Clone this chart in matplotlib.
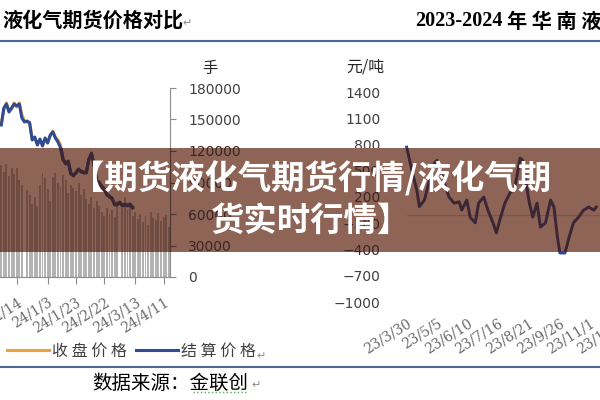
import numpy as np
import matplotlib
matplotlib.use('Agg')
import matplotlib.pyplot as plt
from matplotlib.patches import Rectangle
from matplotlib.transforms import Bbox, TransformedBbox

plt.rcParams['font.family'] = ['Noto Sans CJK SC', 'DejaVu Sans']
plt.rcParams['axes.unicode_minus'] = True

# ---- left chart: 成交量 (手) and 收盘/结算价格
volume = [107000, 100000, 108000, 96000, 104000, 98000, 104000, 92000, 88000, 0,
          83000, 78000, 70000, 76000, 68000, 88000, 99000, 94000, 84000, 72000,
          95000, 99000, 90000, 86000, 97000, 92000, 80000, 88000, 85000, 82000,
          90000, 78000, 84000, 74000, 70000, 76000, 66000, 72000, 68000, 62000,
          58000, 66000, 60000, 64000, 57000, 72000, 0, 66000, 76000, 64000,
          70000, 58000, 62000, 55000, 60000, 52000, 58000, 50000, 62000, 56000,
          54000, 61000, 53000, 57000, 59000, 48000]
settle = [4875, 4960, 4980, 4940, 4960, 4980, 4970, 4980, 4910, 4890,
          4895, 4885, 4800, 4815, 4775, 4805, 4770, 4810, 4785, 4825,
          4840, 4810, 4790, 4760, 4700, 4685, 4690, 4635, 4620, 4640,
          4650, 4645, 4635, 4640, 4700, 4735, 4675, 4600, 4585, 4570,
          4550, 4530, 4515, 4510, 4475, 4480, 4485, 4475, 4475, 4475,
          4475, 4465]
close = [4880, 4955, 4985, 4945, 4955, 4985, 4965, 4985, 4925, 4895,
         4890, 4890, 4805, 4810, 4780, 4800, 4775, 4805, 4790, 4820,
         4845, 4815, 4800, 4775, 4705, 4680, 4695, 4630, 4625, 4635,
         4655, 4640, 4640, 4635, 4705, 4730, 4680, 4595, 4590, 4565,
         4555, 4525, 4520, 4505, 4480, 4475, 4490, 4470, 4480, 4470,
         4480, 4460]
vol_ticks = [0, 30000, 60000, 90000, 120000, 150000, 180000]
left_tick_idx = [6, 18, 29, 40, 52, 63]
left_tick_labels = ['23/12/14', '24/1/3', '24/1/23', '24/2/22', '24/3/13', '24/4/11']

# ---- right chart: 2023-2024 华南液化气 价差 (元/吨)
spread_days = [0, 6, 12, 15, 21, 27, 33, 36, 41, 46,
               50, 56, 62, 65, 71, 75, 81, 85, 91, 96,
               102, 106, 110, 116, 122, 128, 134, 137, 141, 145,
               149, 154, 158, 164, 170, 174, 178, 181, 187, 192,
               197, 203, 209, 215, 221, 224]
spread = [770, 510, 280, 90, 165, 395, 590, 620, 475, 315,
          200, 130, 145, 50, 165, -30, -95, 130, 200, 50,
          -95, -210, -65, 130, 245, 315, 645, 620, 360, 130,
          -30, 130, -145, -95, 165, 85, -255, -440, -440, -255,
          -95, -30, 50, 85, 50, 85]
spread_ticks = [-1000, -700, -400, -100, 200, 500, 800, 1100, 1400]
right_tick_days = [0, 36, 72, 108, 144, 180, 216, 252]
right_tick_labels = ['23/3/30', '23/5/5', '23/6/10', '23/7/16', '23/8/21',
                     '23/9/26', '23/11/1', '23/12/7']

W, H = 600, 400
ORANGE = '#E9A43C'
BLUE = '#2F4B93'
BANNER = '#8E6456'
XLAB = dict(rotation=32, ha='right', va='top', rotation_mode='anchor',
            family='DejaVu Serif', fontsize=10, color='#6A6A6A')


def px_rect(x0, y0, x1, y1):
    return [x0 / W, 1 - y1 / H, (x1 - x0) / W, (y1 - y0) / H]


fig = plt.figure(figsize=(6, 4), dpi=100)
fig.patch.set_facecolor('white')
banner_box = TransformedBbox(Bbox.from_extents(0, 1 - 252 / H, 1, 1 - 148 / H),
                             fig.transFigure)


def in_banner(ax, v):
    y = ax.transData.transform((0, v))[1]
    return banner_box.y0 <= y <= banner_box.y1


def clip_to_banner(arts):
    for a in arts:
        a.set_clip_on(True)
        a.set_clip_box(banner_box)


def draw_left(z, bar_c, close_c, settle_c, axis_c, lab_c, shadow):
    rect = px_rect(0, 88, 170, 277)
    ax_v = fig.add_axes(rect, zorder=z)
    ax_p = fig.add_axes(rect, zorder=z + 0.1, sharex=ax_v)
    ax_v.patch.set_visible(False)
    x = np.arange(len(volume))
    ax_v.bar(x, volume, width=0.75, color=bar_c, linewidth=0)
    ax_v.set_xlim(-0.5, len(volume) - 0.5)
    ax_v.set_ylim(0, 180000)
    ax_v.yaxis.tick_right()
    ax_v.set_yticks(vol_ticks)
    ax_v.set_yticklabels([str(v) if in_banner(ax_v, v) == shadow else '' for v in vol_ticks],
                         family='DejaVu Sans', fontsize=10, color=lab_c)
    ax_v.set_xticks(left_tick_idx)
    ax_v.set_xticklabels(['' if shadow else s for s in left_tick_labels], **XLAB)
    ax_v.tick_params(axis='y', right=True, left=False, direction='out',
                     length=4, pad=9, color=axis_c)
    ax_v.tick_params(axis='x', direction='out', length=5, pad=8, color=axis_c)
    for side in ['left', 'top']:
        ax_v.spines[side].set_visible(False)
    for side in ['right', 'bottom']:
        ax_v.spines[side].set_color(axis_c)

    ax_p.plot(np.arange(len(close)), close, color=close_c, lw=2.2)
    ax_p.plot(np.arange(len(settle)), settle, color=settle_c, lw=2.2)
    ax_p.set_ylim(4115, 5060)
    ax_p.axis('off')

    if shadow:
        arts = list(ax_v.patches) + list(ax_p.lines) + list(ax_v.spines.values())
        for t in ax_v.xaxis.get_major_ticks() + ax_v.yaxis.get_major_ticks():
            arts += [t.tick1line, t.tick2line]
        clip_to_banner(arts)


def draw_right(z, line_c, zero_c, lab_c, shadow):
    ax = fig.add_axes(px_rect(386, 92, 620, 302), zorder=z)
    ax.patch.set_visible(False)
    ax.set_xlim(-24.4, 247.4)
    ax.set_ylim(-1000, 1400)
    ax.hlines(0, spread_days[0], ax.get_xlim()[1], color=zero_c, lw=1)
    ax.plot(spread_days, spread, color=line_c, lw=2.1)
    for s in ax.spines.values():
        s.set_visible(False)
    ax.set_yticks(spread_ticks)
    ax.set_yticklabels([f'{v}'.replace('-', '\u2212') if in_banner(ax, v) == shadow else ''
                        for v in spread_ticks],
                       family='DejaVu Sans', fontsize=10, color=lab_c)
    ax.tick_params(axis='y', length=0, pad=4)
    ax.set_xticks(right_tick_days)
    ax.set_xticklabels(['' if shadow else s for s in right_tick_labels], **XLAB)
    ax.tick_params(axis='x', length=0, pad=10)
    if shadow:
        clip_to_banner(list(ax.lines) + list(ax.collections))
    return ax


# normal charts
draw_left(1, '#B3B3B3', ORANGE, BLUE, '#8C8C8C', '#404040', False)
draw_right(1, BLUE, '#D9D9D9', '#404040', False)

# overlay banner
ax_b = fig.add_axes([0, 0, 1, 1], zorder=5)
ax_b.set_xlim(0, W)
ax_b.set_ylim(H, 0)
ax_b.axis('off')
ax_b.add_patch(Rectangle((0, 148), W, 104, facecolor=BANNER, edgecolor='none'))

# what shows through the banner
draw_left(6, '#6E4C42', '#3B2636', '#3B2636', '#4A332D', '#3A2622', True)
draw_right(6, '#3B2636', '#7A5548', '#3A2622', True)

# texts and decorations
ax_t = fig.add_axes([0, 0, 1, 1], zorder=8)
ax_t.set_xlim(0, W)
ax_t.set_ylim(H, 0)
ax_t.axis('off')

ax_t.text(2, 20, '液化气期货价格对比', fontsize=14.5, weight='bold', va='center', color='black')
ax_t.text(182, 23, '↵', fontsize=8, color='#8C8C8C', va='center', family='DejaVu Sans')
ax_t.text(415, 21, '2023-2024', family='Liberation Serif', weight='bold',
          fontsize=14.5, va='center', color='black')
ax_t.text(507, 21, '年 华 南 液 化 气', fontsize=14.5, weight='bold', va='center', color='black')
ax_t.axhline(41, color='#4E6A92', lw=1.5)

ax_t.text(210, 68, '手', ha='center', va='center', fontsize=11, color='#262626')
ax_t.text(346, 67, '元/吨', ha='left', va='center', fontsize=11.5, color='#262626')

ax_t.text(311, 179, '【期货液化气期货行情/液化气期', color='white', fontsize=24,
          weight='bold', ha='center', va='center')
ax_t.text(311, 221, '货实时行情】', color='white', fontsize=24,
          weight='bold', ha='center', va='center')

leg_handles = [plt.Line2D([], [], color=ORANGE, lw=2.2), plt.Line2D([], [], color=BLUE, lw=2.2)]
fig.legend(leg_handles, ['收 盘 价 格', '结 算 价 格'], ncol=2, frameon=False,
           loc='center left', bbox_to_anchor=(7 / W, 1 - 351 / H), borderaxespad=0,
           borderpad=0, handlelength=2.6, handletextpad=0.2, columnspacing=0.6,
           prop={'size': 11.5}, labelcolor='#404040')
ax_t.text(256, 356, '↵', fontsize=8, color='#8C8C8C', va='center', family='DejaVu Sans')
ax_t.axhline(367, color='#4E6A92', lw=1.5)

ax_t.text(92, 383, '数据来源：金联创', fontsize=14, va='center', color='black')
ax_t.text(251, 385, '↵', fontsize=8, color='#8C8C8C', va='center', family='DejaVu Sans')
ax_t.hlines(392, 193, 247, color='#5BAA5B', lw=1, linestyles=':')

fig.savefig('out.png', dpi=100)
